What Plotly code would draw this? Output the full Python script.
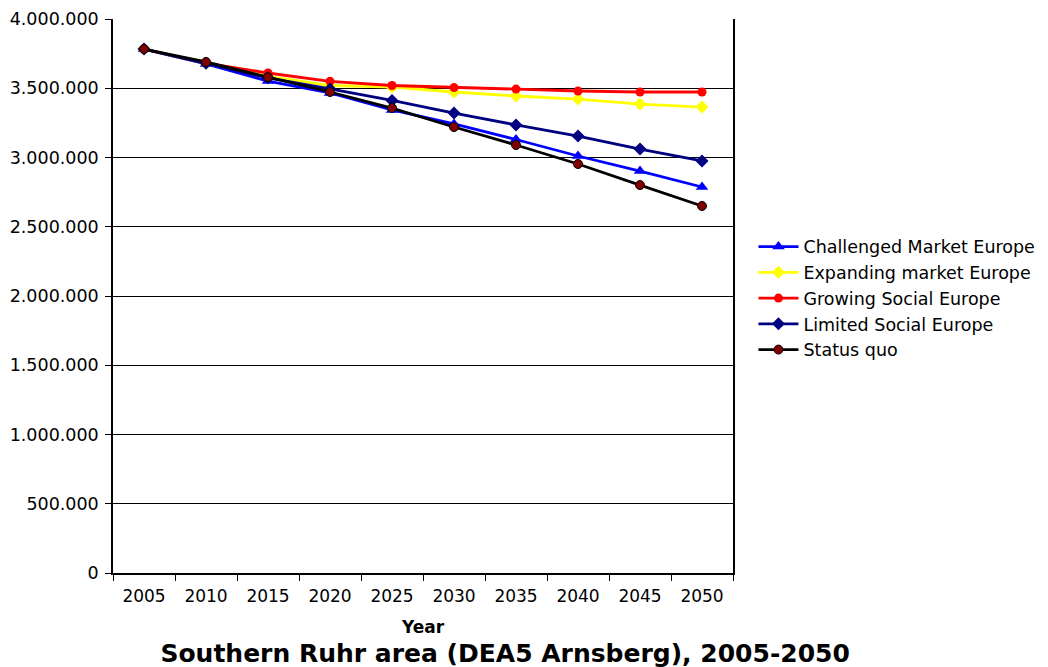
import plotly.graph_objects as go

years = ["2005", "2010", "2015", "2020", "2025", "2030", "2035", "2040", "2045", "2050"]
challenged = [3783000, 3675000, 3552000, 3466000, 3343000, 3242000, 3130000, 3011000, 2902000, 2787000]
expanding = [3783000, 3680000, 3585000, 3520000, 3509000, 3473000, 3444000, 3422000, 3386000, 3364000]
growing = [3783000, 3682000, 3610000, 3550000, 3520000, 3505000, 3494000, 3480000, 3473000, 3473000]
limited = [3783000, 3680000, 3575000, 3495000, 3412000, 3321000, 3235000, 3155000, 3061000, 2975000]
status_quo = [3783000, 3690000, 3580000, 3473000, 3357000, 3220000, 3090000, 2953000, 2801000, 2650000]

series = [
    ("Challenged Market Europe", challenged, "#0000FF", dict(symbol="triangle-up", size=11, color="#0000FF")),
    ("Expanding market Europe", expanding, "#FFFF00", dict(symbol="diamond", size=10, color="#FFFF00")),
    ("Growing Social Europe", growing, "#FF0000", dict(symbol="circle", size=9, color="#FF0000")),
    ("Limited Social Europe", limited, "#000080", dict(symbol="diamond", size=10, color="#000080")),
    ("Status quo", status_quo, "#000000", dict(symbol="circle", size=9, color="#800000", line=dict(color="#000000", width=1))),
]

fig = go.Figure()
for name, vals, col, mk in series:
    fig.add_trace(go.Scatter(x=years, y=vals, name=name, mode="lines+markers",
                             line=dict(color=col, width=2.8), marker=mk))

font = "DejaVu Sans, Verdana, sans-serif"
fig.update_layout(
    width=1048, height=667,
    margin=dict(l=113, r=315, t=19, b=94, autoexpand=False),
    paper_bgcolor="white", plot_bgcolor="white",
    separators=",.",
    font=dict(family=font, size=17, color="#000000"),
    showlegend=True,
    legend=dict(x=1.033, y=0.496, xanchor="left", yanchor="middle",
                font=dict(size=17.5), tracegroupgap=0, itemwidth=40,
                bgcolor="rgba(0,0,0,0)"),
    title=dict(text="<b>Southern Ruhr area (DEA5 Arnsberg), 2005-2050</b>",
               x=0.482, xanchor="center", y=0.021, yanchor="middle", yref="container",
               font=dict(size=25, family=font)),
    xaxis=dict(type="category", range=[-0.5, 9.5], tickson="boundaries",
               ticks="outside", ticklen=6, tickcolor="#000", showgrid=False,
               showline=True, linecolor="#000", linewidth=1.5,
               ticklabelstandoff=7, automargin=False,
               title=dict(text="<b>Year</b>", font=dict(size=17), standoff=16),
               tickfont=dict(size=17)),
    yaxis=dict(range=[0, 4000000], dtick=500000, tickformat=",d",
               ticks="outside", ticklen=6, tickcolor="#000",
               showgrid=True, gridcolor="#000", gridwidth=1,
               showline=True, linecolor="#000", linewidth=1.5, mirror=True,
               ticklabelstandoff=3, automargin=False,
               zeroline=False, tickfont=dict(size=17.5)),
)

fig.write_html("out.html", config={"displayModeBar": False},
               post_script="document.body.style.margin='0';")
